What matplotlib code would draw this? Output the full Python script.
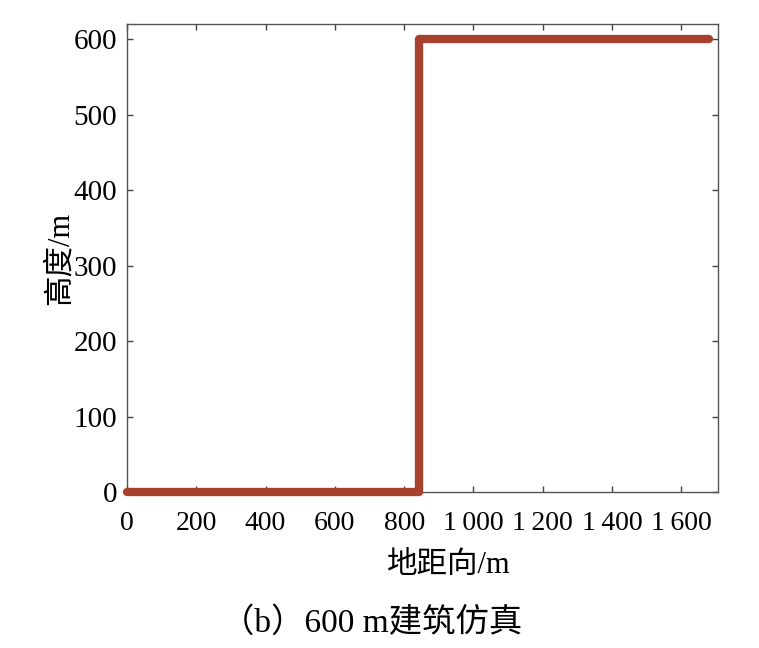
import matplotlib.pyplot as plt
from matplotlib.ticker import FuncFormatter

plt.rcParams['font.family'] = ['Liberation Serif', 'Noto Sans CJK SC']

# ground range (m) and height (m) of the simulated 600 m building profile
ground_range = [0, 842, 842, 1680]
height = [0, 0, 600, 600]

x_ticks = [0, 200, 400, 600, 800, 1000, 1200, 1400, 1600]
y_ticks = [0, 100, 200, 300, 400, 500, 600]

fig = plt.figure(figsize=(7.59, 6.48), dpi=100)
ax = fig.add_axes([0.1673, 0.2407, 0.7787, 0.7223])

ax.plot(ground_range, height, color='#a8402e', linewidth=6,
        solid_capstyle='round', solid_joinstyle='round', clip_on=False, zorder=3)

ax.set_xlim(0, 1706)
ax.set_ylim(0, 620)
ax.set_xticks(x_ticks)
ax.set_yticks(y_ticks)
ax.xaxis.set_major_formatter(FuncFormatter(lambda v, p: '{:,}'.format(int(v)).replace(',', '\u2009')))

ax.tick_params(direction='in', top=True, right=True, length=4, width=1,
               color='#444444')
ax.tick_params(axis='x', pad=14, labelsize=20)
ax.tick_params(axis='y', pad=7, labelsize=21)
for s in ax.spines.values():
    s.set_color('#555555')
    s.set_linewidth(1)

ax.set_xlabel('地距向/m', fontsize=22)
ax.set_ylabel('高度/m', fontsize=22)
ax.xaxis.set_label_coords(0.545, -0.125)
ax.yaxis.set_label_coords(-0.088, 0.5)

fig.text(0.49, 0.038, '（b）600 m建筑仿真', fontsize=24, ha='center', va='center')

fig.savefig('out.png', dpi=100)
